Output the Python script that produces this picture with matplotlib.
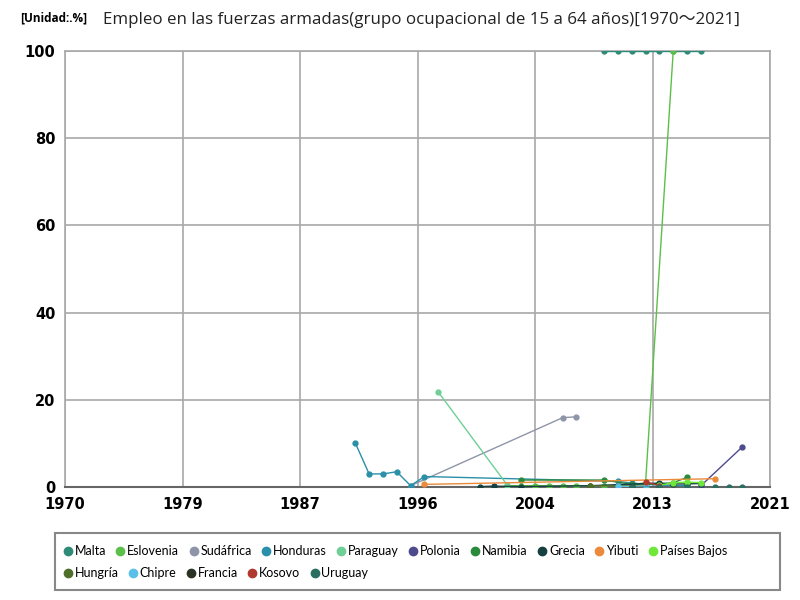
import matplotlib
matplotlib.use("Agg")
import matplotlib.pyplot as plt
from matplotlib.lines import Line2D
from matplotlib.patches import Rectangle
import numpy as np

plt.rcParams['font.family'] = ['Open Sans', 'DejaVu Sans']

# ---- data ----
malta_years = [2009, 2010, 2011, 2012, 2013, 2014, 2015, 2016]
malta_vals = [100, 100, 100, 100, 100, 100, 100, 100]

eslovenia_years = [2002, 2003, 2004, 2005, 2006, 2007, 2008, 2009, 2010, 2011, 2012, 2014]
eslovenia_vals = [0.3, 0.3, 0.3, 0.3, 0.3, 0.3, 0.3, 0.3, 0.4, 0.5, 1.0, 100]

sudafrica_years = [1995, 2006, 2007]
sudafrica_vals = [0.3, 15.9, 16.1]

honduras_years = [1991, 1992, 1993, 1994, 1995, 1996, 2010, 2011, 2013, 2015]
honduras_vals = [10.1, 3.0, 3.0, 3.5, 0.3, 2.4, 1.3, 0.9, 0.4, 0.3]

paraguay_years = [1997, 2002]
paraguay_vals = [21.8, 0.4]

polonia_years = [2016, 2019]
polonia_vals = [0.3, 9.2]

namibia_years = [2003, 2009, 2011, 2013, 2014, 2015]
namibia_vals = [1.6, 1.6, 0.6, 0.7, 1.0, 2.2]

grecia_years = [2000, 2001, 2003, 2008, 2013, 2014, 2015, 2016]
grecia_vals = [0.1, 0.2, 0.1, 0.3, 0.9, 0.7, 0.7, 0.8]

yibuti_years = [1996, 2017]
yibuti_vals = [0.6, 1.9]

paises_bajos_years = [2013, 2014, 2015, 2016]
paises_bajos_vals = [0.4, 1.0, 1.1, 1.0]

hungria_years = [2008, 2012]
hungria_vals = [0.3, 0.2]

chipre_years = [2010, 2012]
chipre_vals = [0.2, 0.2]

francia_years = [2011, 2013]
francia_vals = [0.1, 0.1]

kosovo_years = [2012, 2013]
kosovo_vals = [1.2, 0.3]

uruguay_years = [2011, 2013, 2015, 2017, 2018, 2019]
uruguay_vals = [0.1, 0.1, 0.1, 0.1, 0.1, 0.1]

names = ["Malta", "Eslovenia", "Sudáfrica", "Honduras", "Paraguay", "Polonia",
         "Namibia", "Grecia", "Yibuti", "Países Bajos", "Hungría", "Chipre",
         "Francia", "Kosovo", "Uruguay"]
years = [malta_years, eslovenia_years, sudafrica_years, honduras_years, paraguay_years,
         polonia_years, namibia_years, grecia_years, yibuti_years, paises_bajos_years,
         hungria_years, chipre_years, francia_years, kosovo_years, uruguay_years]
vals = [malta_vals, eslovenia_vals, sudafrica_vals, honduras_vals, paraguay_vals,
        polonia_vals, namibia_vals, grecia_vals, yibuti_vals, paises_bajos_vals,
        hungria_vals, chipre_vals, francia_vals, kosovo_vals, uruguay_vals]
colors = ["#2e8b78", "#5cbf4a", "#8e95a8", "#2a8fa8", "#6fcf97", "#4e4a8e",
          "#2a8a3c", "#15403f", "#ea8a3a", "#6fe83a", "#4f6e2a", "#5bc0e8",
          "#2a3322", "#b03a2e", "#2a6e62"]

xtick_pos = np.linspace(1970, 2021, 7)
xtick_labels = ["1970", "1979", "1987", "1996", "2004", "2013", "2021"]

# ---- figure ----
fig = plt.figure(figsize=(8, 6), dpi=100)
ax = fig.add_axes([65/800, 1-487/600, 705/800, 436/600])

for i in range(len(names)):
    ax.plot(years[i], vals[i], color=colors[i], lw=1, marker='o', ms=3.5, zorder=3)

ax.set_xlim(1970, 2021)
ax.set_ylim(0, 100)
ax.set_xticks(xtick_pos)
ax.set_xticklabels(xtick_labels, fontweight='bold', fontsize=10.5, family='DejaVu Sans')
ax.set_yticks([0, 20, 40, 60, 80, 100])
ax.set_yticklabels(["0", "20", "40", "60", "80", "100"], fontweight='bold',
                   fontsize=10.5, family='DejaVu Sans')
ax.tick_params(length=0, pad=7)
ax.grid(True, color="#a8a8a8", lw=1.2)
ax.set_axisbelow(True)
for s in ["top", "right", "left"]:
    ax.spines[s].set_color("#a8a8a8")
    ax.spines[s].set_linewidth(1.2)
ax.spines["bottom"].set_color("#666666")
ax.spines["bottom"].set_linewidth(1.5)

# titles
fig.text(20/800, 1-18/600, "[Unidad:.%]", fontsize=8.5, fontweight='bold', va='center')
fig.text(103/800, 1-20/600,
         "Empleo en las fuerzas armadas(grupo ocupacional de 15 a 64 años)[1970～2021]",
         fontsize=12.2, va='center', color="#222222",
         family=['Open Sans', 'Noto Sans CJK JP', 'DejaVu Sans'])

# legend box + two rows
fig.patches.append(Rectangle((55/800, 1-590/600), 725/800, 57/600,
                             transform=fig.transFigure, fill=False,
                             edgecolor="#888888", lw=1.5))

def make_handles(idx):
    return [Line2D([], [], ls='', marker='o', ms=6, color=colors[j]) for j in idx]

row1 = list(range(10))
row2 = list(range(10, 15))
legend_kw = dict(frameon=False, handletextpad=0.05, columnspacing=0.65,
                 handlelength=1.0, prop={'family': 'Lato', 'size': 9})
leg1 = fig.legend(make_handles(row1), [names[j] for j in row1], ncol=10,
                  loc='center left', bbox_to_anchor=(50/800, 1-551/600), **legend_kw)
leg2 = fig.legend(make_handles(row2), [names[j] for j in row2], ncol=5,
                  loc='center left', bbox_to_anchor=(50/800, 1-573/600), **legend_kw)

fig.savefig("out.png", dpi=100)
